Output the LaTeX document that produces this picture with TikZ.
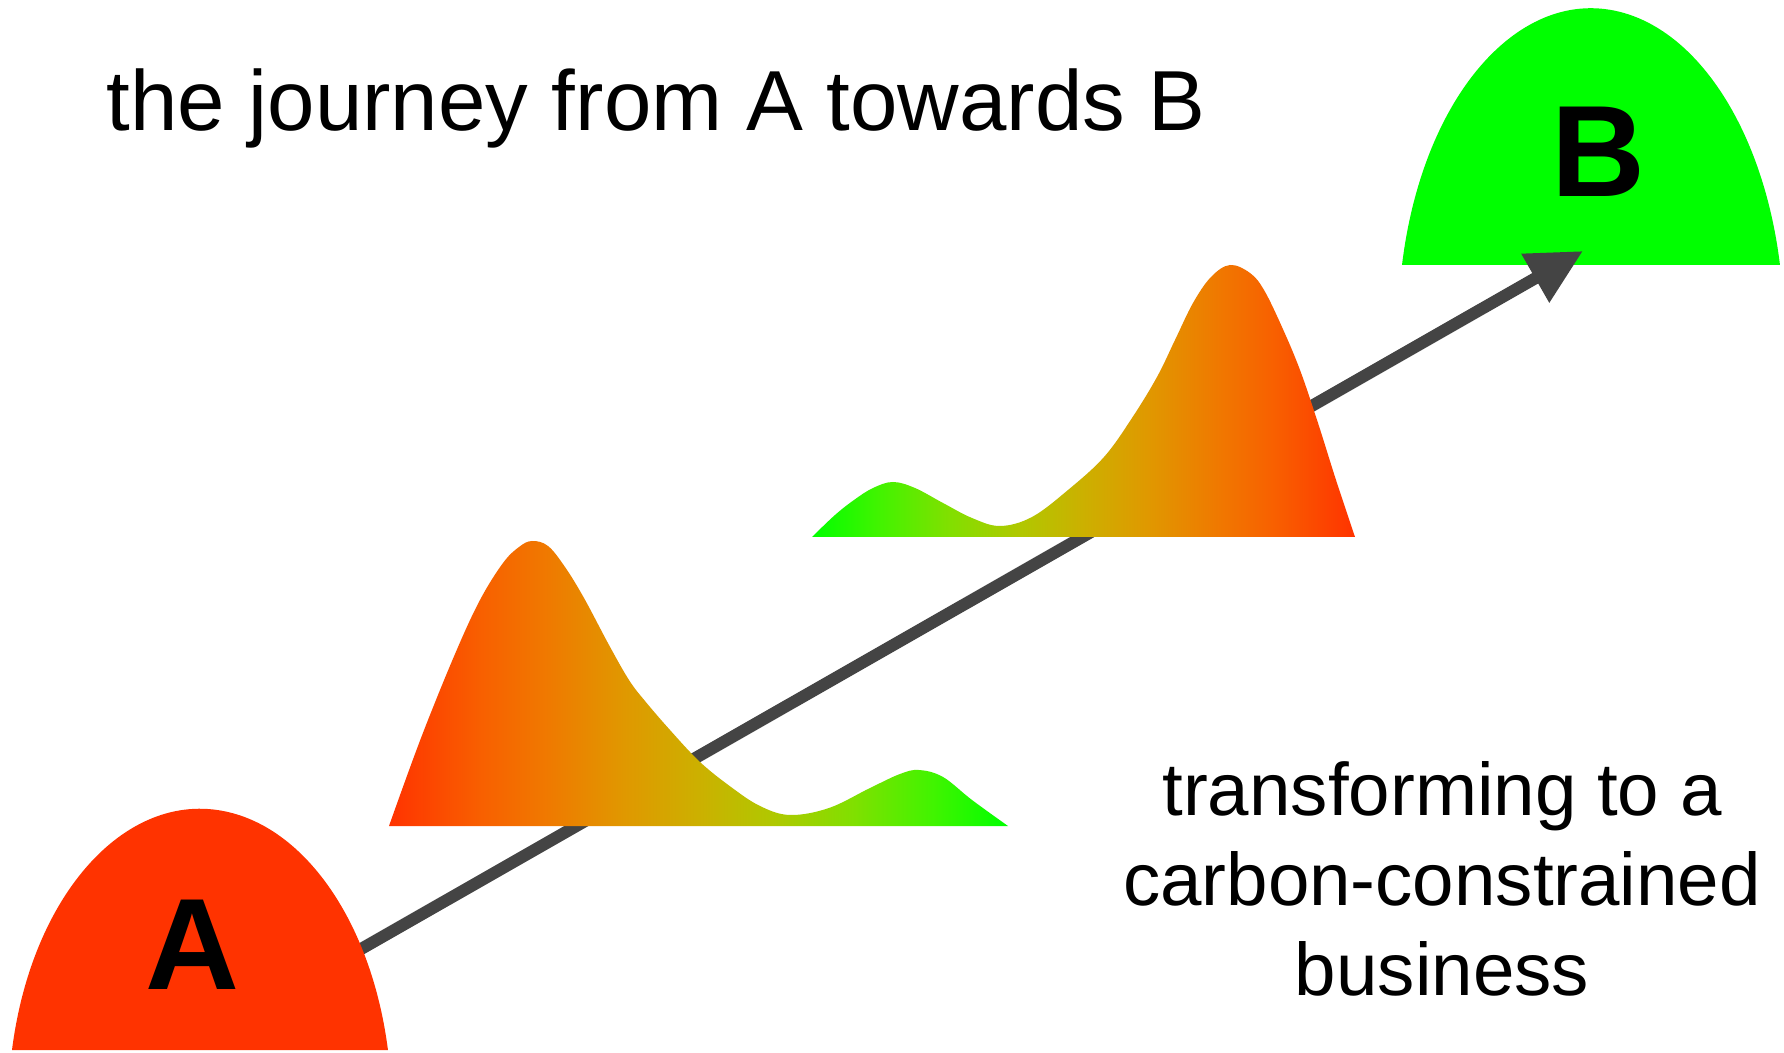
\documentclass[tikz,border=0pt]{standalone}
\usepackage{fontspec}
\setmainfont{Liberation Sans}
\usetikzlibrary{arrows.meta}
\definecolor{Ember}{HTML}{FF3300}
\definecolor{Leaf}{HTML}{00FF00}
\definecolor{Slate}{HTML}{444444}
\definecolor{HeatA}{HTML}{F86000}
\definecolor{HeatB}{HTML}{F07800}
\definecolor{HeatC}{HTML}{E09800}
\definecolor{HeatD}{HTML}{CCB000}
\definecolor{HeatE}{HTML}{B0C800}
\definecolor{HeatF}{HTML}{80E000}
\definecolor{HeatG}{HTML}{40F400}
\pgfdeclarehorizontalshading{warmtocool}{100bp}{color(0bp)=(Ember); color(25bp)=(Ember);
  color(32.5bp)=(HeatA); color(37.5bp)=(HeatB); color(44bp)=(HeatC); color(50bp)=(HeatD);
  color(56bp)=(HeatE); color(62.5bp)=(HeatF); color(69bp)=(HeatG); color(75bp)=(Leaf); color(100bp)=(Leaf)}

\begin{document}
\begin{tikzpicture}[
    x=0.1mm,y=-0.1mm,
    every node/.style={inner sep=0pt},
    heading/.style={font=\fontsize{24.25pt}{29pt}\selectfont,anchor=base west},
    caption/.style={font=\fontsize{21.2pt}{25.6pt}\selectfont,align=center,anchor=base},
    station/.style={font=\fontsize{37pt}{44pt}\selectfont\bfseries,anchor=base},
    hump/.style={shading=warmtocool},
    route/.style={draw=Slate,line width=1.2mm,-{Triangle[length=5.5mm,width=5.3mm]}}
  ]
    \useasboundingbox[fill=white] (0,0) rectangle (1784,1053);
    % end point B
    \fill[Leaf] (1402,265) arc[start angle=191.4,end angle=348.6,x radius=192.8,y radius=320] -- cycle;
    \coordinate (Abase) at (200,1041);
    \coordinate (Bbase) at (1583,251);
    \draw[route] (Abase) -- (Bbase);
    % start point A
    \fill[Ember] (12,1050) arc[start angle=191.3,end angle=348.7,x radius=191.7,y radius=300] -- cycle;
    \node[station] (A) at (192,989) {A};
    \node[station] (B) at (1598,197) {B};
    % the two distributions
    \shade[hump] plot[smooth,tension=0.6] coordinates {(389,826) (421,738) (455,654) (480,600)
      (503,563) (519,547) (532,541) (548,546) (565,567) (584,598) (609,645) (629,680) (645,701)
      (670,730) (700,762) (731,787) (760,806) (790,815) (829,808) (870,788) (900,774) (919,770)
      (943,777) (972,800) (1008,826)} -- cycle;
    \shade[hump,shading angle=180] plot[smooth,tension=0.6] coordinates {(812,537) (835,515)
      (854,500) (873,488) (893,482) (915,488) (943,503) (972,518) (1000,526) (1032,517)
      (1068,490) (1104,457) (1132,418) (1157,377) (1175,340) (1193,303) (1211,277) (1230,265)
      (1250,273) (1264,290) (1282,327) (1300,370) (1318,423) (1336,480) (1355,537)} -- cycle;
    \node[heading] (journey) at (106,131) {the journey from A towards B};
    \node[caption] (goal) at (1442,995) {transforming to a\\carbon-constrained\\business};
\end{tikzpicture}
\end{document}
